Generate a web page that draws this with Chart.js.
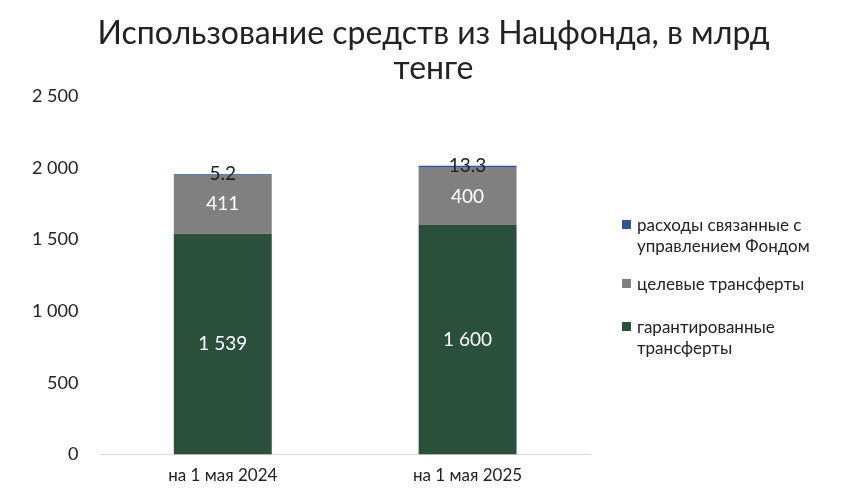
<!DOCTYPE html>
<html><head><meta charset="utf-8">
<script src="https://cdn.jsdelivr.net/npm/chart.js@4"></script>
<style>
body{margin:0;background:#fff;font-family:Lato,"Noto Sans",sans-serif;}
#wrap{position:relative;width:867px;height:499px;}
#title{position:absolute;left:0;width:867px;top:14px;text-align:center;font-size:32px;line-height:35px;color:#222;}
#legend{position:absolute;left:622px;top:214px;font-size:17px;color:#222;line-height:21px;}
.item{position:relative;padding-left:15px;margin-bottom:17px;}
.sw{position:absolute;left:0;top:6px;width:9px;height:9px;}
</style></head><body>
<div id="wrap"><canvas id="c" width="867" height="499"></canvas>
<div id="title">Использование средств из Нацфонда, в млрд<br>тенге</div>
<div id="legend">
<div class="item"><span class="sw" style="background:#2f5597"></span>расходы связанные с<br>управлением Фондом</div>
<div class="item"><span class="sw" style="background:#808080"></span>целевые трансферты</div>
<div class="item" style="margin-top:22px"><span class="sw" style="background:#2a4f3a"></span>гарантированные<br>трансферты</div>
</div></div>
<script>
const categories = ["на 1 мая 2024", "на 1 мая 2025"];
const guaranteed = [1539, 1600];
const targeted = [411, 400];
const management = [5.2, 13.3];

const fmt = v => v >= 1000 ? String(v).replace(/\B(?=(\d{3})+(?!\d))/g, " ") : String(v);

const labelsPlugin = {
    id: "labels",
    afterDatasetsDraw(chart) {
        const ctx = chart.ctx;
        ctx.save();
        ctx.font = "19px Lato, 'Noto Sans', sans-serif";
        ctx.textAlign = "center";
        ctx.textBaseline = "middle";
        chart.data.datasets.forEach((ds, i) => {
            chart.getDatasetMeta(i).data.forEach((el, j) => {
                const y = i === 2 ? el.y : (el.y + el.base) / 2;
                ctx.fillStyle = i === 2 ? "#222" : "#fff";
                ctx.fillText(fmt(ds.data[j]), el.x, y);
            });
        });
        ctx.restore();
    },
};

new Chart(document.getElementById("c"), {
    type: "bar",
    plugins: [labelsPlugin],
    data: {
        labels: categories,
        datasets: [
            { label: "гарантированные трансферты", data: guaranteed, backgroundColor: "#2a4f3a" },
            { label: "целевые трансферты", data: targeted, backgroundColor: "#808080" },
            { label: "расходы связанные с управлением Фондом", data: management, backgroundColor: "#2f5597" },
        ],
    },
    options: {
        responsive: false,
        animation: false,
        datasets: { bar: { barPercentage: 0.4, categoryPercentage: 1 } },
        layout: { padding: { left: 18, right: 277, bottom: 10, top: 96 } },
        scales: {
            x: {
                stacked: true,
                grid: { display: false },
                border: { color: "#d9d9d9" },
                ticks: { color: "#222", font: { size: 17, family: "Lato" } },
            },
            y: {
                stacked: true,
                min: 0,
                max: 2500,
                grid: { display: false },
                border: { display: false },
                ticks: { stepSize: 500, color: "#222", font: { size: 18, family: "Lato" }, padding: 14, callback: v => fmt(v) },
            },
        },
        plugins: {
            legend: { display: false },
            tooltip: { enabled: false },
            title: { display: false },
        },
    },
});
</script></body></html>
